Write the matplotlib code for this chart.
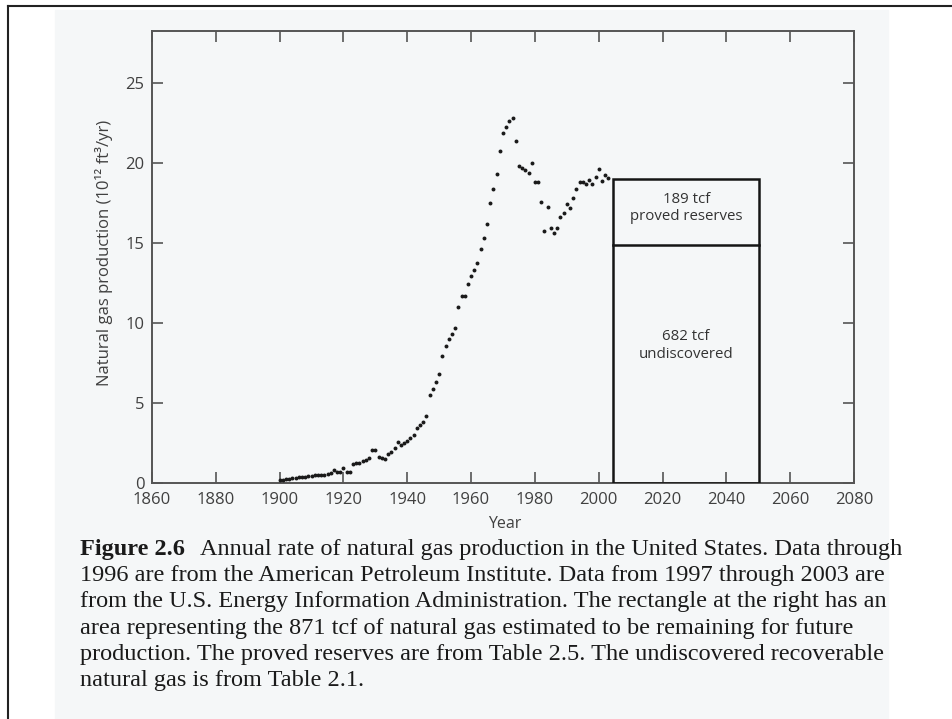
import matplotlib
matplotlib.use("Agg")
import matplotlib.pyplot as plt
from matplotlib.patches import Rectangle
from matplotlib.lines import Line2D

# annual US natural gas production, 10^12 ft^3/yr
years = list(range(1900, 2004))
production = [
    0.19, 0.19, 0.22, 0.26, 0.30, 0.33, 0.36, 0.40, 0.40, 0.42,   # 1900s
    0.45, 0.48, 0.48, 0.48, 0.49, 0.55, 0.62, 0.81, 0.71, 0.71,   # 1910s
    0.92, 0.71, 0.71, 1.20, 1.23, 1.27, 1.35, 1.44, 1.58, 2.08,   # 1920s
    2.08, 1.65, 1.58, 1.48, 1.79, 1.96, 2.17, 2.54, 2.38, 2.48,   # 1930s
    2.65, 2.79, 2.98, 3.42, 3.63, 3.79, 4.21, 5.52, 5.90, 6.31,   # 1940s
    6.79, 7.94, 8.56, 9.02, 9.29, 9.67, 10.98, 11.69, 11.69, 12.46,  # 1950s
    12.94, 13.33, 13.77, 14.60, 15.29, 16.19, 17.48, 18.40, 19.31, 20.75,  # 1960s
    21.85, 22.23, 22.65, 22.81, 21.40, 19.81, 19.67, 19.56, 19.40, 20.00,  # 1970s
    18.81, 18.81, 17.56, 15.77, 17.23, 15.92, 15.60, 15.94, 16.65, 16.85,  # 1980s
    17.42, 17.21, 17.81, 18.35, 18.81, 18.81, 18.69, 18.94, 18.71, 19.15,  # 1990s
    19.65, 18.87, 19.25, 19.05,                                    # 2000-2003
]

proved_tcf = 189
undiscovered_tcf = 682
future_rate = 19.0
future_start = 2004.5

caption_bold = "Figure 2.6"
caption_lines = [
    "Annual rate of natural gas production in the United States. Data through",
    "1996 are from the American Petroleum Institute. Data from 1997 through 2003 are",
    "from the U.S. Energy Information Administration. The rectangle at the right has an",
    "area representing the 871 tcf of natural gas estimated to be remaining for future",
    "production. The proved reserves are from Table 2.5. The undiscovered recoverable",
    "natural gas is from Table 2.1.",
]

W, H = 952, 719
fig = plt.figure(figsize=(W / 100, H / 100), dpi=100)
fig.patch.set_facecolor("white")

# scanned page tint + outer frame
fig.patches.append(Rectangle((55 / W, 0), (888 - 55) / W, 1 - 10 / H,
                             transform=fig.transFigure, color="#f5f7f8", zorder=-10))
fig.lines.append(Line2D([8 / W, 8 / W], [0, 1 - 6 / H], transform=fig.transFigure,
                        color="#222222", lw=1.5))
fig.lines.append(Line2D([8 / W, 1], [1 - 6 / H, 1 - 6 / H], transform=fig.transFigure,
                        color="#222222", lw=1.5))

plt.rcParams["font.family"] = ["Open Sans", "DejaVu Sans"]

ax = fig.add_axes([152 / W, 1 - 483 / H, (854 - 152) / W, (483 - 31) / H])
ax.set_facecolor("none")

ax.scatter(years, production, s=8, color="#1a1a1a", linewidths=0, zorder=3)

# remaining gas drawn as a rectangle of area proved + undiscovered
total = proved_tcf + undiscovered_tcf
width = total / future_rate
proved_h = proved_tcf / width
ax.add_patch(Rectangle((future_start, 0), width, future_rate, fill=False,
                       ec="#151515", lw=1.8, zorder=4))
ax.plot([future_start, future_start + width], [future_rate - proved_h] * 2,
        color="#151515", lw=1.8, zorder=4)
ax.text(future_start + width / 2, future_rate - proved_h / 2 + 0.25,
        f"{proved_tcf} tcf\nproved reserves", ha="center", va="center",
        fontsize=10.8, color="#333333", linespacing=1.25)
ax.text(future_start + width / 2, 8.6, f"{undiscovered_tcf} tcf\nundiscovered",
        ha="center", va="center", fontsize=10.8, color="#333333", linespacing=1.25)

ax.set_xlim(1860, 2080)
ax.set_ylim(0, 28.25)
ax.set_xticks(range(1860, 2081, 20))
ax.set_yticks(range(0, 26, 5))
ax.tick_params(direction="in", length=8, width=1.2, top=True, right=True,
               color="#555555", labelsize=12, labelcolor="#404040", pad=5)
ax.tick_params(axis="x", pad=6.5)
ax.tick_params(axis="y", pad=5.5)
for s in ax.spines.values():
    s.set_color("#555555")
    s.set_linewidth(1.4)

ax.set_xlabel("Year", fontsize=11.5, color="#404040")
ax.xaxis.set_label_coords(0.503, -0.074)
ax.set_ylabel("Natural gas production (10¹² ft³/yr)", fontsize=12, color="#404040")
ax.yaxis.set_label_coords(-0.055, 0.51)

# caption
cap = dict(family="Liberation Serif", fontsize=17.5, color="#1a1a1a", va="baseline")
fig.text(80 / W, 1 - 555 / H, caption_bold, fontweight="bold", **cap)
for i, line in enumerate(caption_lines):
    x0 = 200 if i == 0 else 80
    fig.text(x0 / W, 1 - (555 + 26.2 * i) / H, line, **cap)

fig.savefig("out.png", dpi=100)
